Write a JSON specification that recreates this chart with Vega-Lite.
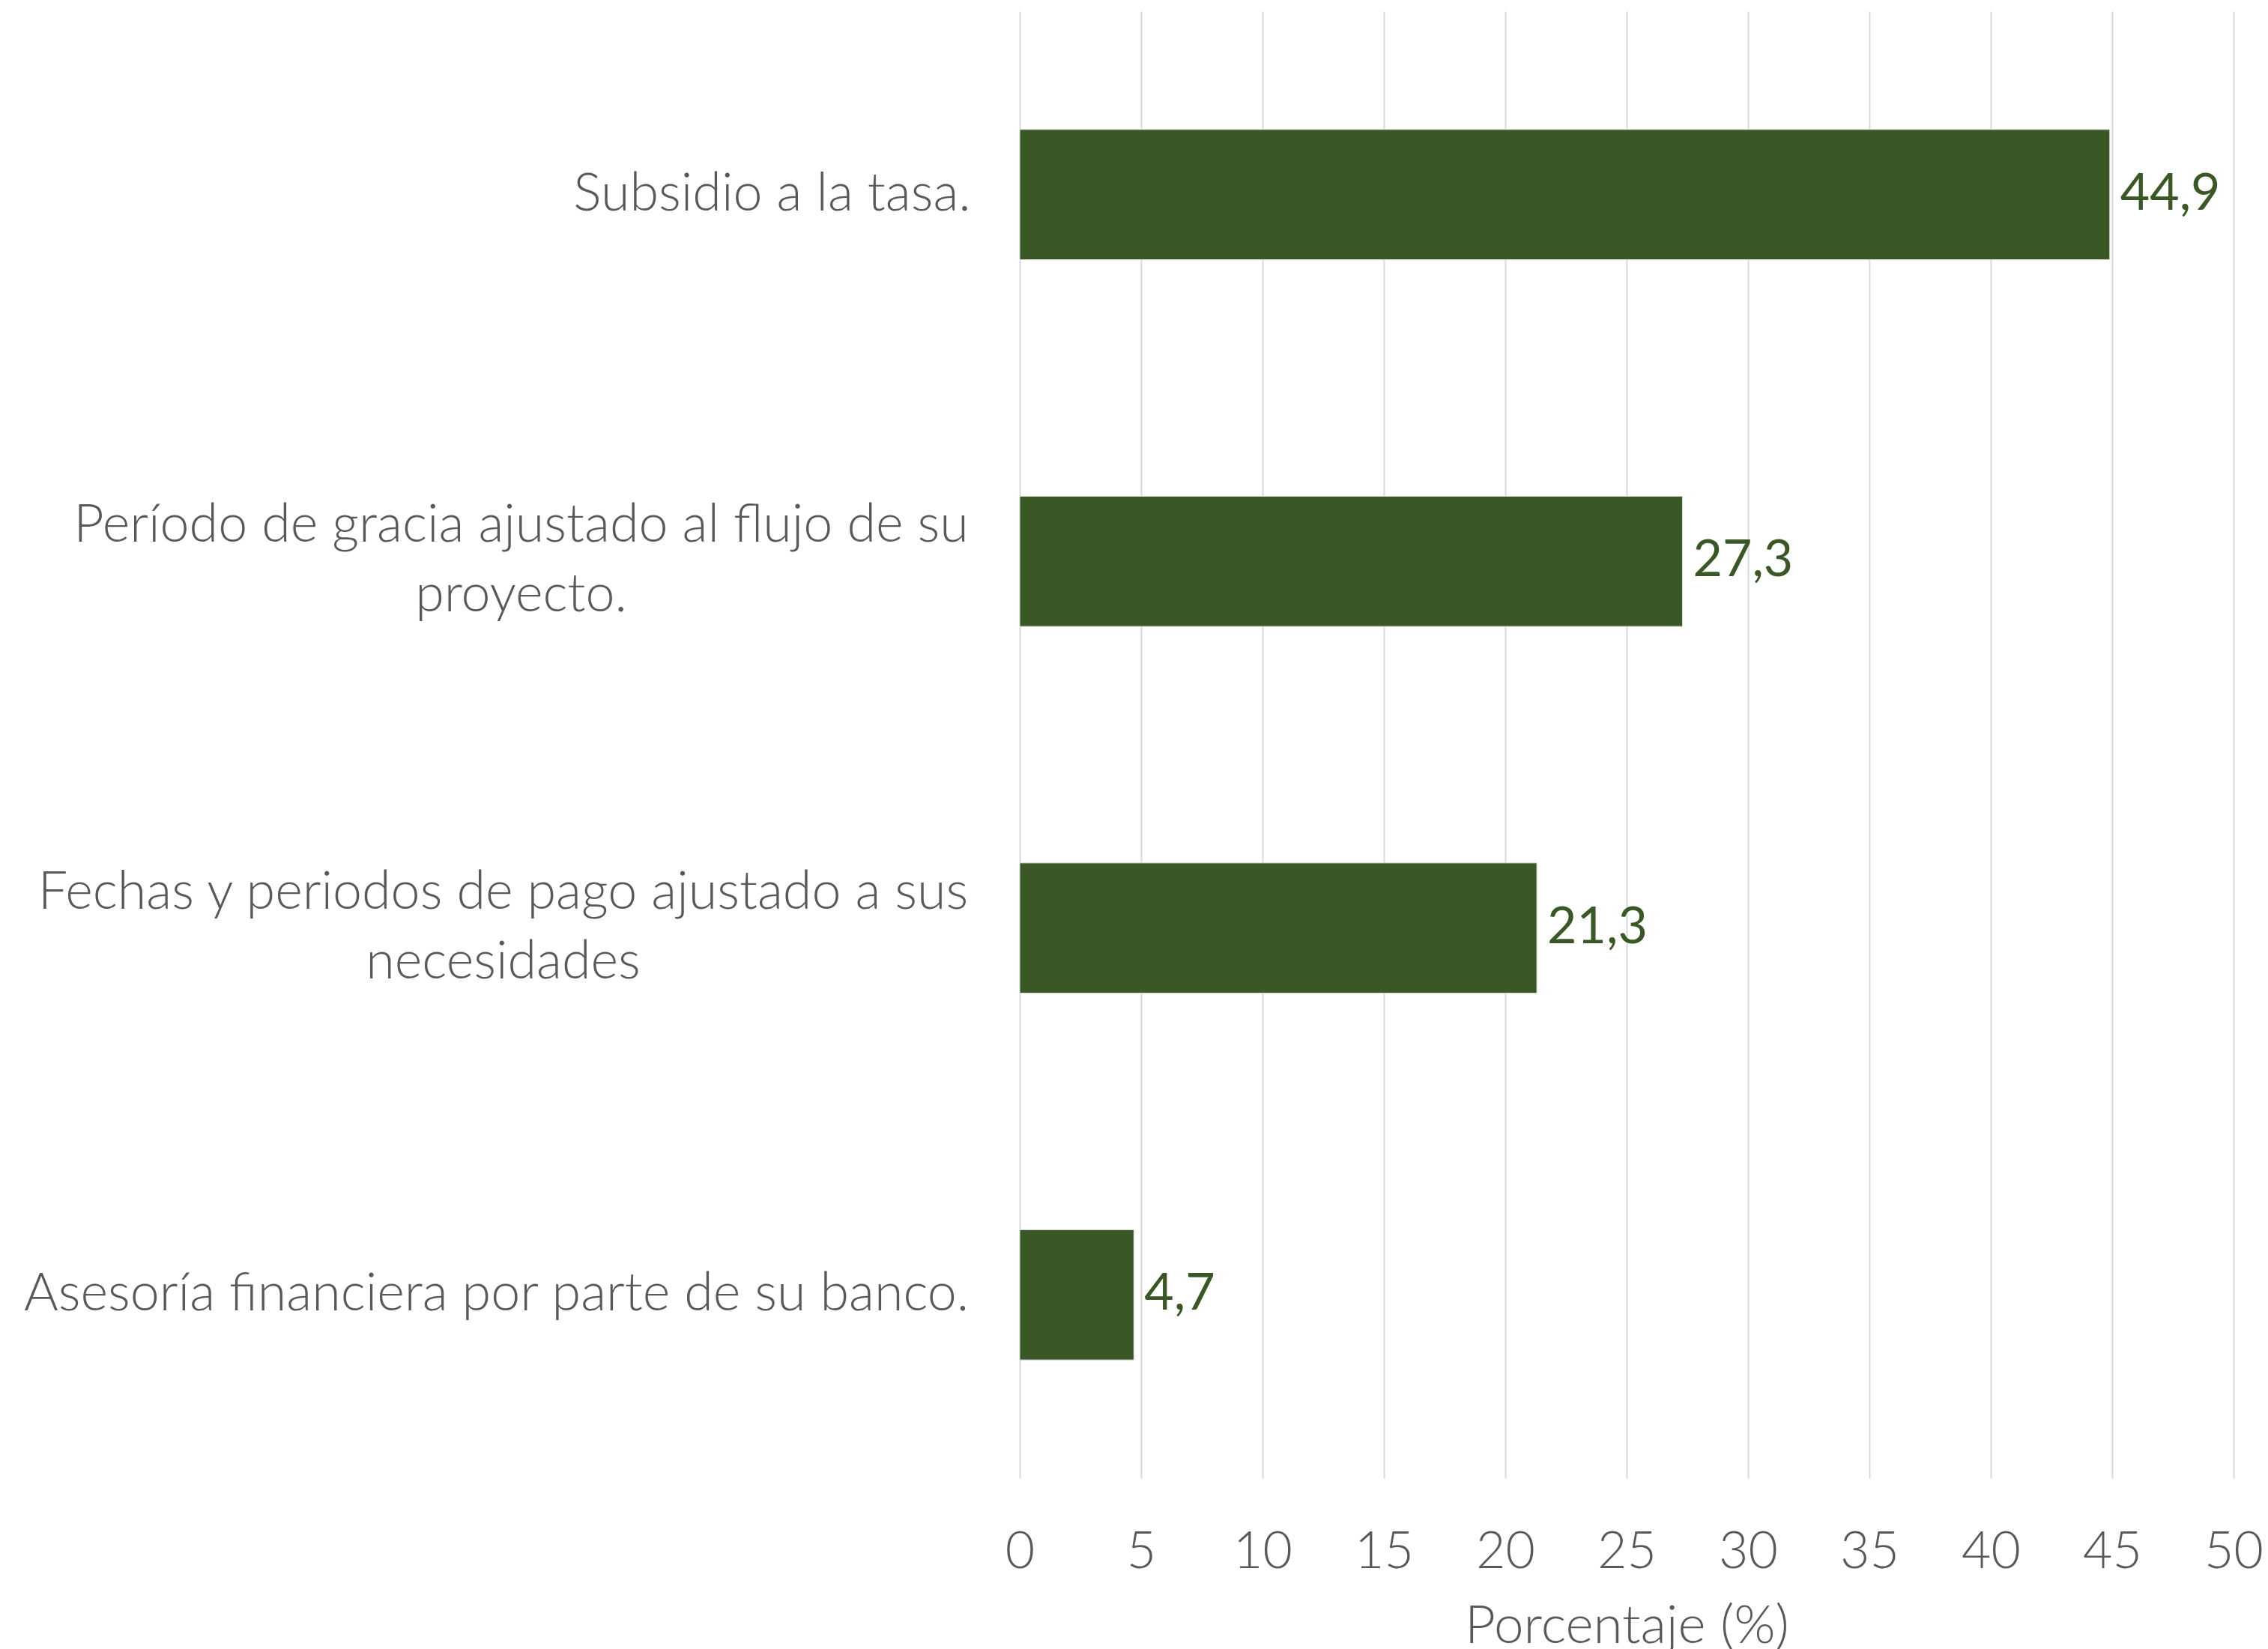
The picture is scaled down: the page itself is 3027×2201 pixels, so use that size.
{
  "$schema": "https://vega.github.io/schema/vega-lite/v6.json",
  "autosize": "none",
  "width": 1620,
  "height": 1958,
  "padding": {"left": 1361, "top": 15, "right": 46, "bottom": 228},
  "background": "white",
  "config": {
    "view": {"stroke": null},
    "locale": {"number": {"decimal": ",", "thousands": ".", "grouping": [3], "currency": ["", " €"]}}
  },
  "data": {
    "values": [
      {"categoria": "Subsidio a la tasa.", "porcentaje": 44.9},
      {"categoria": "Período de gracia ajustado al flujo de su proyecto.", "porcentaje": 27.3},
      {"categoria": "Fechas y periodos de pago ajustado a sus necesidades", "porcentaje": 21.3},
      {"categoria": "Asesoría financiera por parte de su banco.", "porcentaje": 4.7}
    ]
  },
  "encoding": {
    "y": {
      "field": "categoria",
      "type": "nominal",
      "sort": null,
      "scale": {"paddingInner": 0.645, "paddingOuter": 0.3225},
      "axis": {
        "title": null,
        "domain": false,
        "ticks": false,
        "tickSize": 0,
        "grid": false,
        "labelFont": "Lato",
        "labelFontWeight": 300,
        "labelFontSize": 70,
        "labelColor": "#595959",
        "labelLineHeight": 93,
        "labelLimit": 2000,
        "labelAlign": "center",
        "labelBaseline": "middle",
        "labelPadding": {
          "expr": "datum.value == 'Subsidio a la tasa.' ? 331 : datum.value == 'Asesoría financiera por parte de su banco.' ? 699 : datum.value == 'Fechas y periodos de pago ajustado a sus necesidades' ? 690 : 666"
        },
        "labelOffset": {
          "expr": "datum.value == 'Período de gracia ajustado al flujo de su proyecto.' || datum.value == 'Fechas y periodos de pago ajustado a sus necesidades' ? -47 : 0"
        },
        "labelExpr": "datum.value == 'Período de gracia ajustado al flujo de su proyecto.' ? ['Período de gracia ajustado al flujo de su', 'proyecto.'] : datum.value == 'Fechas y periodos de pago ajustado a sus necesidades' ? ['Fechas y periodos de pago ajustado a sus', 'necesidades'] : datum.value"
      }
    },
    "x": {
      "field": "porcentaje",
      "type": "quantitative",
      "scale": {"domain": [0, 50], "nice": false},
      "axis": {
        "title": "Porcentaje (%)",
        "values": [0, 5, 10, 15, 20, 25, 30, 35, 40, 45, 50],
        "domain": false,
        "ticks": false,
        "tickSize": 0,
        "grid": true,
        "gridColor": "#d9d9d9",
        "gridWidth": 2,
        "labelFont": "Lato",
        "labelFontWeight": 300,
        "labelFontSize": 68,
        "labelColor": "#595959",
        "labelPadding": 65,
        "labelFlush": false,
        "titleFont": "Lato",
        "titleFontWeight": 300,
        "titleFontSize": 71,
        "titleColor": "#595959",
        "titlePadding": 30
      }
    }
  },
  "layer": [
    {
      "mark": {"type": "bar", "color": "#3A5726", "stroke": "#e0e0e0", "strokeWidth": 1}
    },
    {
      "mark": {"type": "text", "align": "left", "baseline": "middle", "dx": 14, "font": "Lato", "fontSize": 68, "color": "#3A5726"},
      "encoding": {
        "text": {"field": "porcentaje", "type": "quantitative", "format": ".1f"}
      }
    }
  ]
}
